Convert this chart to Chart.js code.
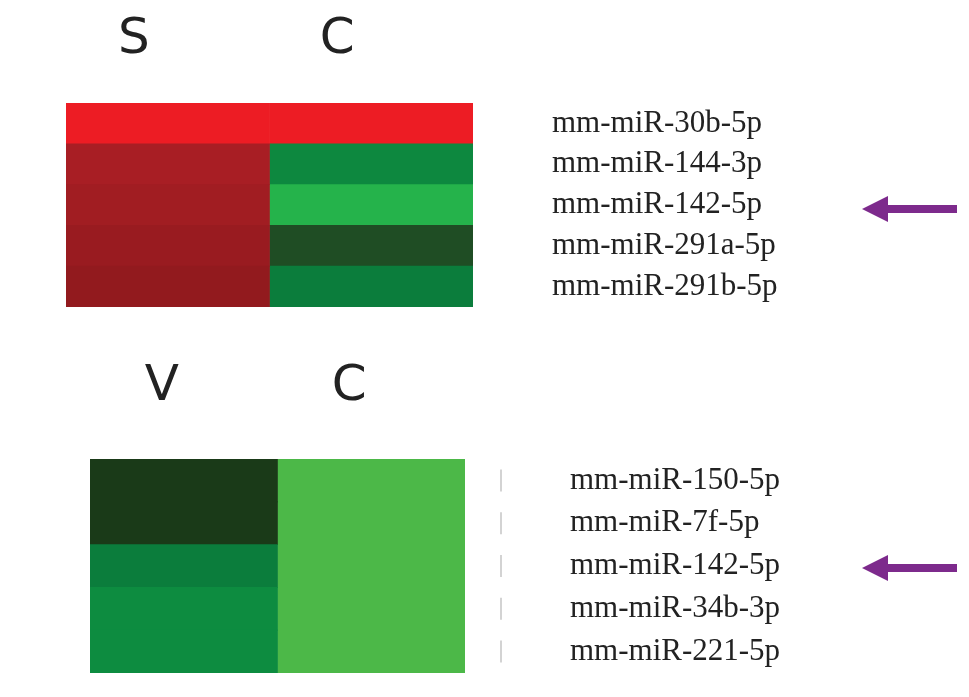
<!DOCTYPE html>
<html>
<head>
<meta charset="utf-8">
<script src="https://cdn.jsdelivr.net/npm/chart.js@4.4.1/dist/chart.umd.min.js"></script>
<style>
body{margin:0;background:#fff;}
#wrap{position:relative;width:969px;height:697px;}
.box{position:absolute;left:0;width:969px;}
</style>
</head>
<body>
<div id="wrap">
  <div class="box" style="top:0;height:340px"><canvas id="chart1"></canvas></div>
  <div class="box" style="top:340px;height:357px"><canvas id="chart2"></canvas></div>
</div>
<script>
// upper heatmap
var topRows = ['mm-miR-30b-5p','mm-miR-144-3p','mm-miR-142-5p','mm-miR-291a-5p','mm-miR-291b-5p'];
var topCols = ['S','C'];
var topS = [3.0, 1.6, 1.5, 1.4, 1.3];
var topC = [3.0, -2.3, -3.4, -0.8, -2.0];

// lower heatmap
var bottomRows = ['mm-miR-150-5p','mm-miR-7f-5p','mm-miR-142-5p','mm-miR-34b-3p','mm-miR-221-5p'];
var bottomCols = ['V','C'];
var bottomV = [-0.3, -0.3, -2.0, -2.4, -2.4];
var bottomC = [-4.0, -4.0, -4.0, -4.0, -4.0];

var arrowRow = 'mm-miR-142-5p';

// green - black - red scale
var stops = [
  [-4.0, '#4cb848'],
  [-3.4, '#25b34b'],
  [-2.4, '#0d8c40'],
  [-2.0, '#0b7d3c'],
  [-0.8, '#1f4d24'],
  [-0.3, '#1a3a18'],
  [0.0, '#141414'],
  [1.3, '#921a1e'],
  [1.6, '#a81e24'],
  [3.0, '#ed1c24']
];
function hex(c){ return [parseInt(c.substr(1,2),16),parseInt(c.substr(3,2),16),parseInt(c.substr(5,2),16)]; }
function colorFor(v){
  if(v <= stops[0][0]) return stops[0][1];
  for(var i=1;i<stops.length;i++){
    if(v <= stops[i][0]){
      var a = hex(stops[i-1][1]), b = hex(stops[i][1]);
      var t = (v - stops[i-1][0])/(stops[i][0]-stops[i-1][0]);
      var r = a.map(function(x,k){ return Math.round(x + (b[k]-x)*t); });
      return 'rgb('+r.join(',')+')';
    }
  }
  return stops[stops.length-1][1];
}

var arrowPlugin = {
  id: 'arrow',
  afterDraw: function(chart, args, opts){
    var rows = chart.data.labels;
    var ys = chart.scales.y;
    var ctx = chart.ctx;
    ctx.save();
    if(opts.marks){
      // faint row marks right of the lower map
      ctx.strokeStyle = '#c4c4c4';
      ctx.lineWidth = 1.5;
      rows.forEach(function(r, i){
        var p = ys.getPixelForValue(i);
        ctx.beginPath();
        ctx.moveTo(501, p - 11);
        ctx.lineTo(501, p + 11);
        ctx.stroke();
      });
    }
    var idx = rows.indexOf(arrowRow);
    if(idx >= 0){
      var y = ys.getPixelForValue(idx) + opts.dy;
      ctx.fillStyle = '#7d2a8c';
      ctx.fillRect(884, y-4, 73, 8);
      ctx.beginPath();
      ctx.moveTo(862, y);
      ctx.lineTo(888, y-13);
      ctx.lineTo(888, y+13);
      ctx.closePath();
      ctx.fill();
    }
    ctx.restore();
  }
};

function makeChart(id, rows, cols, a, b, lay){
  var ctx = document.getElementById(id).getContext('2d');
  return new Chart(ctx, {
    type: 'bar',
    data: {
      labels: rows,
      datasets: [
        {label: cols[0], data: rows.map(function(){return 1;}), backgroundColor: a.map(colorFor)},
        {label: cols[1], data: rows.map(function(){return 1;}), backgroundColor: b.map(colorFor)}
      ]
    },
    options: {
      indexAxis: 'y',
      responsive: true,
      maintainAspectRatio: false,
      animation: false,
      layout: {padding: {left: lay.left, right: 0, top: 0, bottom: lay.bottom}},
      datasets: {bar: {barPercentage: 1, categoryPercentage: 1, borderWidth: 0}},
      plugins: {
        legend: {display: false},
        tooltip: {enabled: false},
        arrow: {dy: lay.arrowDy, marks: lay.marks}
      },
      scales: {
        x: {
          position: 'top', stacked: true, min: 0, max: 2,
          grid: {display: false, drawTicks: false}, border: {display: false},
          afterBuildTicks: function(s){ s.ticks = [{value: 0.5},{value: 1.5}]; },
          afterFit: function(s){ s.height = lay.axisH; s.paddingLeft = 0; s.paddingRight = 0; },
          ticks: {
            padding: lay.headPad, labelOffset: lay.headOffset, color: '#222',
            font: {family: 'DejaVu Sans', size: 50},
            callback: function(v, i){ return cols[i]; }
          }
        },
        y: {
          position: 'right', stacked: true,
          grid: {display: false, drawTicks: false}, border: {display: false},
          afterFit: function(s){ s.width = lay.axisW; s.paddingTop = 0; s.paddingBottom = 0; },
          ticks: {autoSkip: false, padding: lay.labelPad, color: '#222', font: {family: 'Liberation Serif', size: 31}}
        }
      }
    },
    plugins: [arrowPlugin]
  });
}

makeChart('chart1', topRows, topCols, topS, topC,
  {left: 66, bottom: 33, axisH: 103, axisW: 496, labelPad: 79, headPad: 33, headOffset: -34, arrowDy: 4, marks: false});
makeChart('chart2', bottomRows, bottomCols, bottomV, bottomC,
  {left: 90, bottom: 24, axisH: 119, axisW: 504, labelPad: 105, headPad: 42, headOffset: -22, arrowDy: 2, marks: true});
</script>
</body>
</html>
